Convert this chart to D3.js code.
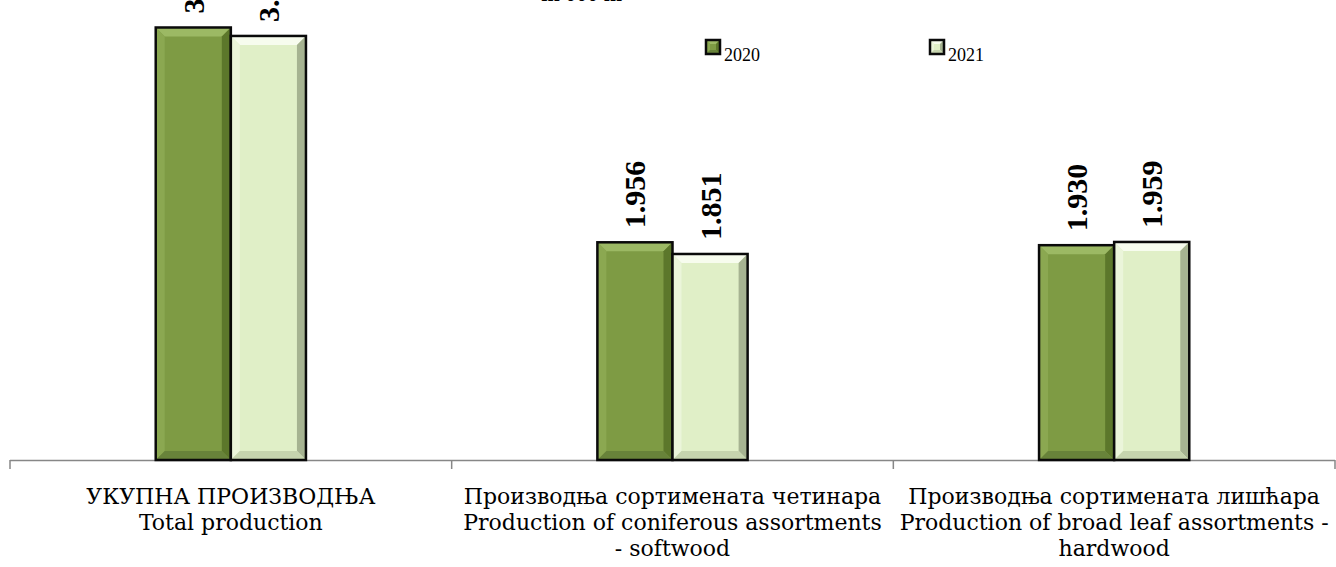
<!DOCTYPE html>
<html>
<head>
<meta charset="utf-8">
<script src="https://cdn.jsdelivr.net/npm/d3@7"></script>
<style>
  html, body { margin: 0; padding: 0; background: #fff; }
  #chart { width: 1336px; height: 567px; }
</style>
</head>
<body>
<div id="chart"></div>
<script>
const categories = ['total', 'softwood', 'hardwood'];
const categoryLabels = [
  ['УКУПНА ПРОИЗВОДЊА', 'Total production'],
  ['Производња сортимената четинара', 'Production of coniferous assortments', '- softwood'],
  ['Производња сортимената лишћара', 'Production of broad leaf assortments -', 'hardwood'],
];
const years = ['2020', '2021'];
const values2020 = [3.886, 1.956, 1.930];
const values2021 = [3.810, 1.851, 1.959];

const STYLE = {
  '2020': { base: '#7e9b44', top: '#9cb964', left: '#8ba851', right: '#5c772b', bottom: '#68833a' },
  '2021': { base: '#e0efc7', top: '#f7fcee', left: '#ebf5da', right: '#a6b391', bottom: '#c6d4ae' },
};

const width = 1336, height = 567;
const svg = d3.select('#chart').append('svg')
  .attr('width', width).attr('height', height);

const x0 = d3.scaleBand().domain(categories).range([10, 1335]).paddingInner(0).paddingOuter(0);
const x1 = d3.scaleBand().domain(years).range([0, x0.bandwidth()]).paddingInner(0).paddingOuter(1.94);
const y = d3.scaleLinear().domain([0, 4.133]).range([460, 0]);

const rows = categories.map((c, i) => ({
  cat: c,
  items: [
    { year: '2020', value: values2020[i] },
    { year: '2021', value: values2021[i] },
  ],
}));

// title is cut off by the top edge, only its bottom shows
svg.append('text')
  .attr('x', 585).attr('y', 1)
  .attr('text-anchor', 'middle')
  .attr('font-family', 'Liberation Serif, serif')
  .attr('font-weight', 'bold')
  .attr('font-size', '22px')
  .text('in 000 m³');

// axis
const axis = svg.append('g').attr('stroke', '#878787').attr('stroke-width', 1.5);
axis.append('line')
  .attr('x1', x0.range()[0]).attr('x2', x0.range()[1])
  .attr('y1', y(0) + 0.5).attr('y2', y(0) + 0.5);
const tickXs = categories.map(c => x0(c)).concat([x0.range()[1]]);
axis.selectAll('line.tick')
  .data(tickXs)
  .join('line')
  .attr('class', 'tick')
  .attr('x1', d => d).attr('x2', d => d)
  .attr('y1', y(0)).attr('y2', y(0) + 9);

function bevelBar(g, x, yTop, w, h, st, depth) {
  const d = Math.min(depth, h / 2);
  const yb = yTop + h;
  g.append('rect').attr('x', x).attr('y', yTop).attr('width', w).attr('height', h).attr('fill', st.base);
  const polys = [
    [[x, yTop], [x + w, yTop], [x + w - d, yTop + d], [x + d, yTop + d], st.top],
    [[x, yTop], [x + d, yTop + d], [x + d, yb - d], [x, yb], st.left],
    [[x + w, yTop], [x + w - d, yTop + d], [x + w - d, yb - d], [x + w, yb], st.right],
    [[x, yb], [x + d, yb - d], [x + w - d, yb - d], [x + w, yb], st.bottom],
  ];
  polys.forEach(p => {
    g.append('polygon')
      .attr('points', p.slice(0, 4).map(q => q.join(',')).join(' '))
      .attr('fill', p[4]);
  });
  g.append('rect').attr('x', x).attr('y', yTop).attr('width', w).attr('height', h)
    .attr('fill', 'none').attr('stroke', '#0a0a0a').attr('stroke-width', 2.5);
}

const groups = svg.selectAll('g.cat')
  .data(rows)
  .join('g')
  .attr('class', 'cat')
  .attr('transform', d => `translate(${x0(d.cat)},0)`);

groups.each(function(row) {
  const g = d3.select(this);
  row.items.forEach(it => {
    bevelBar(g, x1(it.year), y(it.value), x1.bandwidth(), y(0) - y(it.value), STYLE[it.year], 9);
  });
  row.items.forEach(it => {
    const cx = x1(it.year) + x1.bandwidth() / 2;
    g.append('text')
      .attr('transform', `translate(${cx},${y(it.value) - 14}) rotate(-90)`)
      .attr('dy', '0.35em')
      .attr('text-anchor', 'start')
      .attr('font-family', 'Liberation Serif, serif')
      .attr('font-weight', 'bold')
      .attr('font-size', '30px')
      .attr('fill', '#000')
      .text(d3.format('.3f')(it.value));
  });
});

// category labels
svg.selectAll('text.cat-label')
  .data(categories)
  .join('text')
  .attr('class', 'cat-label')
  .attr('text-anchor', 'middle')
  .attr('font-family', 'DejaVu Serif, serif')
  .attr('font-size', '22px')
  .attr('fill', '#000')
  .each(function(c, i) {
    const t = d3.select(this);
    const cx = x0(c) + x0.bandwidth() / 2;
    categoryLabels[i].forEach((line, k) => {
      t.append('tspan').attr('x', cx).attr('y', 504 + k * 26).text(line);
    });
  });

// legend
const legend = svg.selectAll('g.legend')
  .data(years)
  .join('g')
  .attr('class', 'legend')
  .attr('transform', (d, i) => `translate(${706 + i * 224},40)`);
legend.each(function(yr) {
  const g = d3.select(this);
  bevelBar(g, 0, 0, 14, 14, STYLE[yr], 4);
  g.append('text')
    .attr('x', 18).attr('y', 21)
    .attr('font-family', 'Liberation Serif, serif')
    .attr('font-size', '18px')
    .attr('fill', '#000')
    .text(yr);
});
</script>
</body>
</html>
